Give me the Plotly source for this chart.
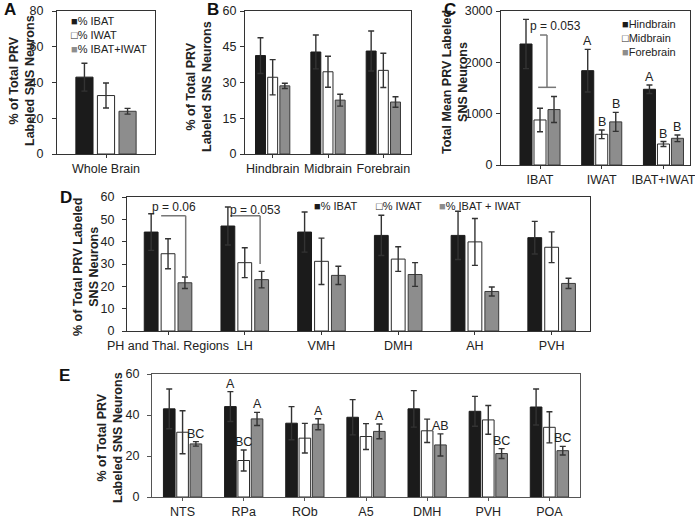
import plotly.graph_objects as go

# ---------------- data ----------------
A_cats = ["Whole Brain"]
A_ibat = [43.0]; A_ibat_err = [7.8]
A_iwat = [32.7]; A_iwat_err = [7.0]
A_both = [23.9]; A_both_err = [1.6]

B_cats = ["Hindbrain", "Midbrain", "Forebrain"]
B_ibat = [41.3, 42.8, 43.2]; B_ibat_err = [7.5, 7.1, 8.4]
B_iwat = [32.2, 34.5, 35.1]; B_iwat_err = [7.4, 6.5, 7.2]
B_both = [28.6, 22.6, 21.8]; B_both_err = [1.1, 2.5, 2.2]

C_cats = ["IBAT", "IWAT", "IBAT+IWAT"]
C_hind = [2357, 1838, 1475]; C_hind_err = [480, 415, 83]
C_mid = [877, 598, 409]; C_mid_err = [228, 84, 48]
C_fore = [1080, 840, 520]; C_fore_err = [253, 185, 65]
C_hind_lbl = ["", "A", "A"]
C_mid_lbl = ["", "B", "B"]
C_fore_lbl = ["", "B", "B"]

D_cats = ["PH and Thal. Regions", "LH", "VMH", "DMH", "AH", "PVH"]
D_ibat = [44.3, 47.0, 44.3, 42.8, 42.8, 41.8]; D_ibat_err = [8.2, 8.5, 9.0, 9.0, 10.8, 7.3]
D_iwat = [34.6, 30.6, 31.2, 32.2, 39.9, 37.5]; D_iwat_err = [6.7, 6.7, 10.4, 5.5, 10.5, 6.9]
D_both = [21.6, 23.0, 24.9, 25.3, 17.7, 21.3]; D_both_err = [2.6, 3.7, 4.1, 5.3, 2.0, 2.3]

E_cats = ["NTS", "RPa", "ROb", "A5", "DMH", "PVH", "POA"]
E_ibat = [43.0, 44.1, 36.0, 38.9, 43.0, 41.8, 43.9]; E_ibat_err = [9.7, 7.3, 8.1, 8.6, 8.9, 7.3, 8.8]
E_iwat = [31.6, 17.8, 28.7, 29.5, 32.3, 37.6, 34.0]; E_iwat_err = [10.5, 5.1, 7.2, 6.3, 5.7, 7.0, 7.6]
E_both = [25.9, 38.1, 35.5, 32.0, 25.4, 21.2, 22.6]; E_both_err = [1.1, 3.2, 2.7, 3.6, 5.4, 2.4, 2.1]
E_ibat_lbl = ["", "A", "", "", "", "", ""]
E_iwat_lbl = ["", "BC", "", "", "", "", ""]
E_both_lbl = ["BC", "A", "A", "A", "AB", "BC", "BC"]

# ---------------- style ----------------
FONT = "Liberation Sans, Arial, sans-serif"
W, H = 695, 520
BLACK, WHITE, GRAY = "#1b1b1b", "#ffffff", "#8d8d8d"
EDGE = {"black": "#1b1b1b", "white": "#2a2a2a", "gray": "#3a3a3a"}
AXC = "#333333"
TXT = "#222222"


def dx(a, b):
    return [a / W, b / W]


def dy(top, bottom):
    return [1 - bottom / H, 1 - top / H]


fig = go.Figure()


def add_group(xa, ya, cats, series, width, step):
    for k, (vals, errs, color, edge) in enumerate(series):
        fig.add_trace(go.Bar(
            x=cats, y=vals, xaxis=xa, yaxis=ya,
            width=width, offset=(k - 1) * step - width / 2,
            marker=dict(color=color, line=dict(color=edge, width=1)),
            error_y=dict(type="data", array=errs, color="#333333", thickness=1.4, width=3),
            showlegend=False, hoverinfo="skip"))


def add_letters(xref, yref, labels, vals, errs, k, step, size=12.5):
    for i, (lab, v, e) in enumerate(zip(labels, vals, errs)):
        if lab:
            fig.add_annotation(x=i + (k - 1) * step, y=v + e, xref=xref, yref=yref,
                               text=lab, showarrow=False, xanchor="center", yanchor="bottom",
                               yshift=-1, font=dict(family=FONT, size=size, color=TXT))


# A
add_group("x", "y", A_cats, [(A_ibat, A_ibat_err, BLACK, EDGE["black"]),
                             (A_iwat, A_iwat_err, WHITE, EDGE["white"]),
                             (A_both, A_both_err, GRAY, EDGE["gray"])], 0.175, 0.22)
# B
add_group("x2", "y2", B_cats, [(B_ibat, B_ibat_err, BLACK, EDGE["black"]),
                               (B_iwat, B_iwat_err, WHITE, EDGE["white"]),
                               (B_both, B_both_err, GRAY, EDGE["gray"])], 0.18, 0.22)
# C
add_group("x3", "y3", C_cats, [(C_hind, C_hind_err, BLACK, EDGE["black"]),
                               (C_mid, C_mid_err, WHITE, EDGE["white"]),
                               (C_fore, C_fore_err, GRAY, EDGE["gray"])], 0.195, 0.227)
add_letters("x3", "y3", C_hind_lbl, C_hind, C_hind_err, 0, 0.227)
add_letters("x3", "y3", C_mid_lbl, C_mid, C_mid_err, 1, 0.227)
add_letters("x3", "y3", C_fore_lbl, C_fore, C_fore_err, 2, 0.227)
# D
add_group("x4", "y4", D_cats, [(D_ibat, D_ibat_err, BLACK, EDGE["black"]),
                               (D_iwat, D_iwat_err, WHITE, EDGE["white"]),
                               (D_both, D_both_err, GRAY, EDGE["gray"])], 0.18, 0.22)
# E
add_group("x5", "y5", E_cats, [(E_ibat, E_ibat_err, BLACK, EDGE["black"]),
                               (E_iwat, E_iwat_err, WHITE, EDGE["white"]),
                               (E_both, E_both_err, GRAY, EDGE["gray"])], 0.19, 0.218)
add_letters("x5", "y5", E_ibat_lbl, E_ibat, E_ibat_err, 0, 0.218)
add_letters("x5", "y5", E_iwat_lbl, E_iwat, E_iwat_err, 1, 0.218)
add_letters("x5", "y5", E_both_lbl, E_both, E_both_err, 2, 0.218)


def xax(domain, rng, anchor, color=AXC):
    return dict(domain=domain, range=rng, anchor=anchor, type="category", automargin=False,
                showline=True, linecolor=color, linewidth=1, mirror=True,
                ticks="outside", ticklen=3, tickcolor=color, showgrid=False, zeroline=False,
                tickfont=dict(family=FONT, size=12.5, color=TXT), fixedrange=True)


def yax(domain, rng, dtick, anchor, standoff, color=AXC):
    return dict(domain=domain, range=rng, anchor=anchor, tickmode="linear", tick0=0, dtick=dtick,
                automargin=False, showline=True, linecolor=color, linewidth=1, mirror=True,
                ticks="outside", ticklen=4, tickcolor=color, showgrid=False, zeroline=False,
                ticklabelstandoff=standoff,
                tickfont=dict(family=FONT, size=12.5, color=TXT), fixedrange=True)


fig.update_layout(
    template="none",
    width=W, height=H, margin=dict(l=0, r=0, t=0, b=0, pad=0, autoexpand=False),
    paper_bgcolor="white", plot_bgcolor="white", barmode="overlay",
    showlegend=False,
    xaxis=xax(dx(57, 155), [-0.5, 0.5], "y"),
    yaxis=yax(dy(11, 154), [0, 80], 20, "x", 6),
    xaxis2=xax(dx(245, 411), [-0.5, 2.5], "y2"),
    yaxis2=yax(dy(11, 154), [0, 60], 15, "x2", 1),
    xaxis3=xax(dx(501, 690), [-0.632, 2.43], "y3"),
    yaxis3=yax(dy(11, 165), [0, 3000], 1000, "x3", 1),
    xaxis4=xax(dx(127, 590), [-0.535, 5.5], "y4"),
    yaxis4=yax(dy(197, 331), [0, 60], 10, "x4", 5),
    xaxis5=xax(dx(152, 580), [-0.5, 6.5], "y5", color="#555555"),
    yaxis5=yax(dy(374, 497), [0, 60], 20, "x5", 5, color="#555555"),
)

# panel letters
for letter, px, py in [("A", 10, 9.5), ("B", 213, 9.5), ("C", 450, 9.5), ("D", 66, 197), ("E", 64, 375)]:
    fig.add_annotation(x=px / W, y=1 - py / H, xref="paper", yref="paper", text="<b>%s</b>" % letter,
                       showarrow=False, xanchor="center", yanchor="middle",
                       font=dict(family=FONT, size=17, color="#111111"))

# axis titles (rotated)
for txt, px, py in [("% of Total PRV<br>Labeled SNS Neurons", 22, 81),
                    ("% of Total PRV<br>Labeled SNS Neurons", 199, 86),
                    ("Total Mean PRV Labeled<br>SNS Neurons", 455, 82),
                    ("% of Total PRV Labeled<br>SNS Neurons", 86, 267),
                    ("% of Total PRV<br>Labeled SNS Neurons", 110, 437)]:
    fig.add_annotation(x=px / W, y=1 - py / H, xref="paper", yref="paper", text="<b>%s</b>" % txt,
                       showarrow=False, textangle=-90, xanchor="center", yanchor="middle",
                       font=dict(family=FONT, size=12.5, color=TXT))

# legends
SQ = {"black": '<span style="color:#1b1b1b">■</span>',
      "white": '<span style="color:#2a2a2a">□</span>',
      "gray": '<span style="color:#8d8d8d">■</span>'}


def legend_item(sq, label, px, py):
    fig.add_annotation(x=px / W, y=1 - py / H, xref="paper", yref="paper", text=SQ[sq] + label,
                       showarrow=False, xanchor="left", yanchor="middle",
                       font=dict(family=FONT, size=11, color=TXT))


legend_item("black", "% IBAT", 69, 21.5)
legend_item("white", "% IWAT", 69, 35)
legend_item("gray", "% IBAT+IWAT", 69, 48.5)

legend_item("black", "Hindbrain", 620, 24)
legend_item("white", "Midbrain", 620, 38)
legend_item("gray", "Forebrain", 620, 52)

legend_item("black", "% IBAT", 312, 206)
legend_item("white", "% IWAT", 374, 206)
legend_item("gray", "% IBAT + IWAT", 437, 206)

# significance brackets
BR = dict(color="#777777", width=1.5)
# C
fig.add_shape(type="line", xref="x3", yref="y3", x0=0.0, x1=0.113, y0=2532, y1=2532, line=BR)
fig.add_shape(type="line", xref="x3", yref="y3", x0=0.113, x1=0.113, y0=2532, y1=1513, line=BR)
fig.add_shape(type="line", xref="x3", yref="y3", x0=-0.03, x1=0.26, y0=1513, y1=1513, line=BR)
fig.add_annotation(x=0.25, y=2708, xref="x3", yref="y3", text="p = 0.053", showarrow=False,
                   xanchor="center", yanchor="middle", font=dict(family=FONT, size=12, color=TXT))
# D
fig.add_shape(type="line", xref="x4", yref="y4", x0=-0.09, x1=0.23, y0=51.6, y1=51.6, line=BR)
fig.add_shape(type="line", xref="x4", yref="y4", x0=0.23, x1=0.23, y0=51.6, y1=24.5, line=BR)
fig.add_annotation(x=0.08, y=55.7, xref="x4", yref="y4", text="p = 0.06", showarrow=False,
                   xanchor="center", yanchor="middle", font=dict(family=FONT, size=12, color=TXT))
fig.add_annotation(x=1.135, y=54.2, xref="x4", yref="y4", text="p = 0.053", showarrow=False,
                   xanchor="center", yanchor="middle", font=dict(family=FONT, size=12, color=TXT))
fig.add_shape(type="line", xref="x4", yref="y4", x0=0.81, x1=1.2, y0=51.6, y1=51.6, line=BR)
fig.add_shape(type="line", xref="x4", yref="y4", x0=1.2, x1=1.2, y0=51.6, y1=30, line=BR)

fig.write_html("out.html", config={"displayModeBar": False},
               post_script="document.body.style.margin='0';")
